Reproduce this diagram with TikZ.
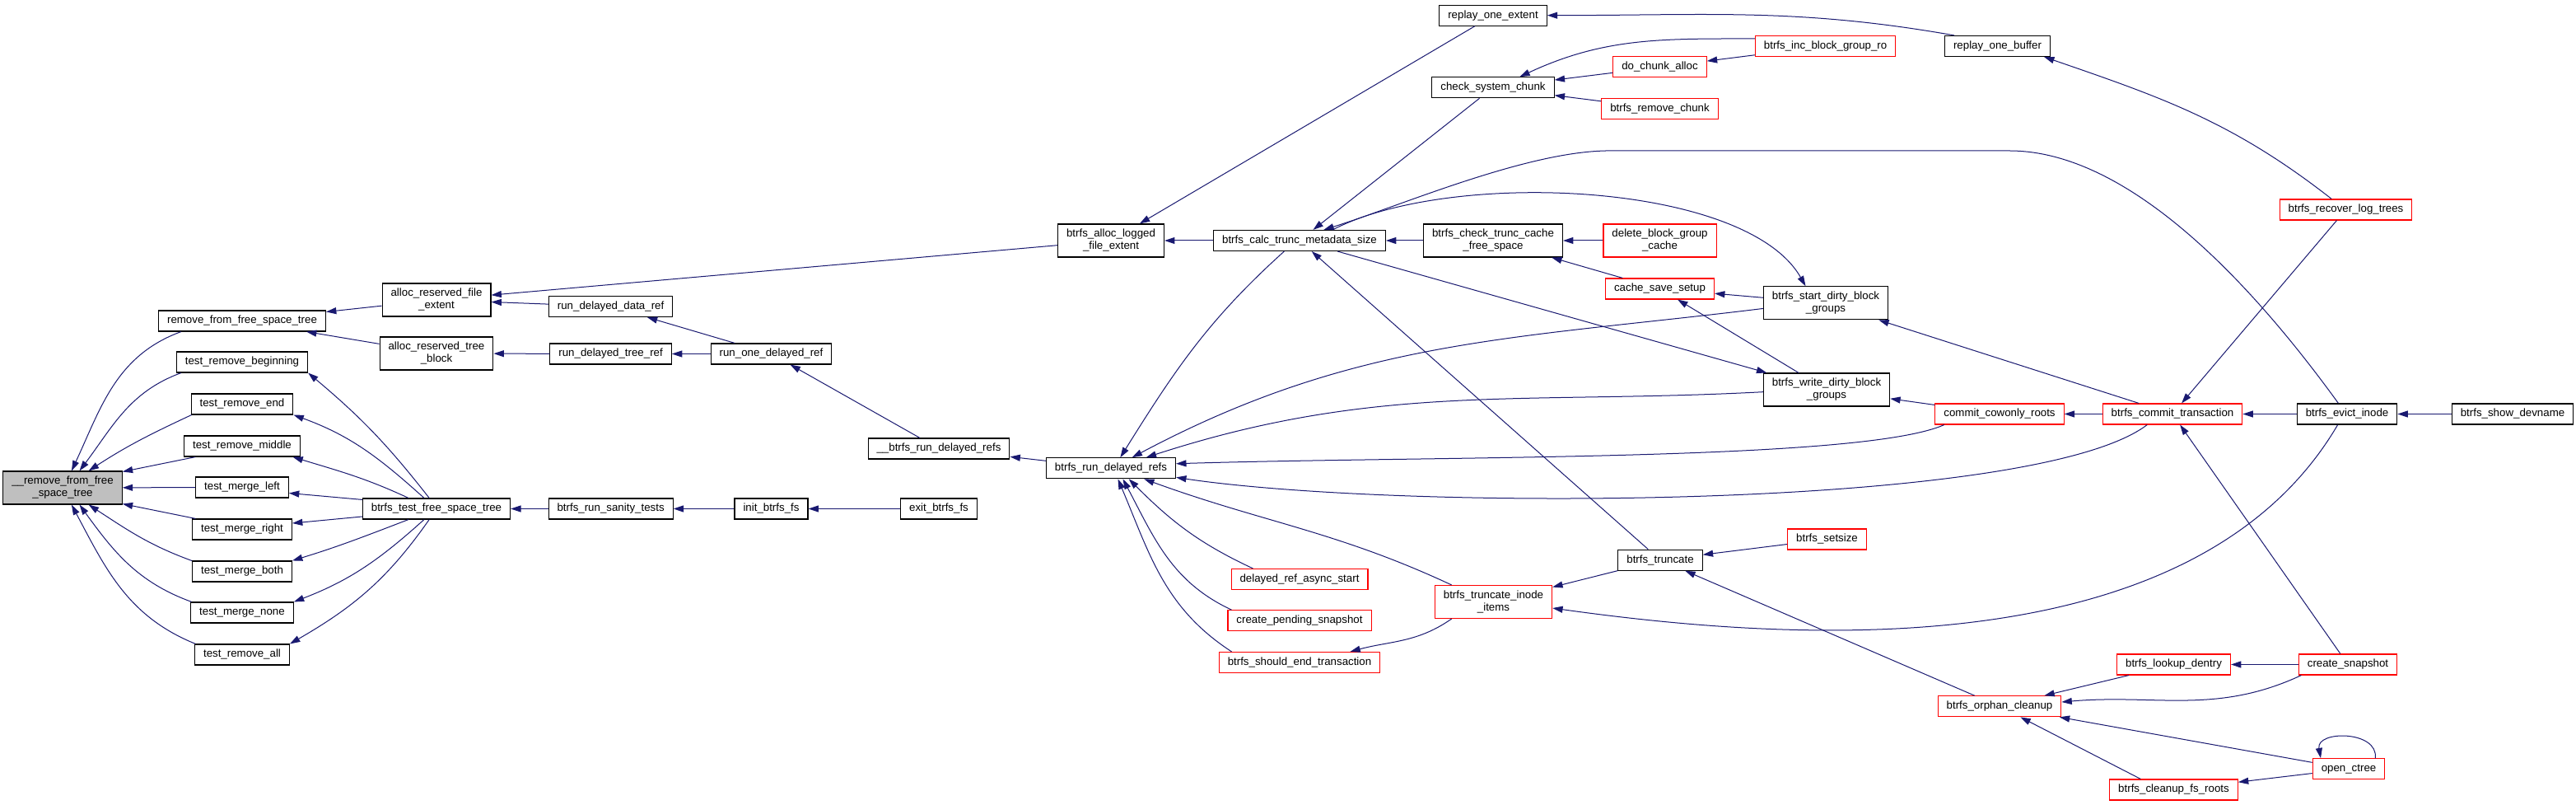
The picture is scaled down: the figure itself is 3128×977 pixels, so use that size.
\documentclass[tikz,border=0pt]{standalone}
\usepackage{fontspec}
\setmainfont{Liberation Sans}
\usepackage{tikz}
\usetikzlibrary{arrows.meta}
\definecolor{cgedge}{HTML}{191970}
\definecolor{cgmain}{HTML}{BFBFBF}
\definecolor{cgred}{HTML}{FF0000}

\begin{document}
\begin{tikzpicture}[x=0.5pt, y=-0.5pt,
  fn/.style={draw=black, fill=white, line width=0.55pt, inner xsep=5.25pt, inner ysep=0pt, minimum height=12.5pt, align=center, font=\fontsize{6.65}{7.5}\selectfont},
  fnred/.style={fn, draw=cgred},
  fntwo/.style={minimum height=20pt},
  call/.style={draw=cgedge, line width=0.5pt, -{Triangle[length=6.2pt,width=4pt]}}]
  \useasboundingbox (0,0) rectangle (3128,977);

  \node[fn, fntwo, fill=cgmain] (rmint) at (76,592) {\_\_remove\_from\_free\\\_space\_tree};
  \node[fn] (rmtree) at (294,389.5) {remove\_from\_free\_space\_tree};
  \node[fn] (trb) at (294,439.5) {test\_remove\_beginning};
  \node[fn] (tre) at (294,490.5) {test\_remove\_end};
  \node[fn] (trm) at (294,541.5) {test\_remove\_middle};
  \node[fn] (tml) at (294,591.5) {test\_merge\_left};
  \node[fn] (tmr) at (294,642.5) {test\_merge\_right};
  \node[fn] (tmb) at (294,693.5) {test\_merge\_both};
  \node[fn] (tmn) at (294,743.5) {test\_merge\_none};
  \node[fn] (tra) at (294,794.5) {test\_remove\_all};
  \node[fn, fntwo] (arfe) at (530,364) {alloc\_reserved\_file\\\_extent};
  \node[fn, fntwo] (artb) at (530,429) {alloc\_reserved\_tree\\\_block};
  \node[fn] (tfst) at (530,617.5) {btrfs\_test\_free\_space\_tree};
  \node[fn] (rdd) at (741.6,372) {run\_delayed\_data\_ref};
  \node[fn] (rdt) at (741.6,429.5) {run\_delayed\_tree\_ref};
  \node[fn] (rst) at (741.6,617.5) {btrfs\_run\_sanity\_tests};
  \node[fn] (rodr) at (936.5,429.5) {run\_one\_delayed\_ref};
  \node[fn] (ibf) at (936.5,617.5) {init\_btrfs\_fs};
  \node[fn] (brdr) at (1140,544.5) {\_\_btrfs\_run\_delayed\_refs};
  \node[fn] (ebf) at (1140,617.5) {exit\_btrfs\_fs};
  \node[fn, fntwo] (alfe) at (1349,292) {btrfs\_alloc\_logged\\\_file\_extent};
  \node[fn] (rdr) at (1349,568.3) {btrfs\_run\_delayed\_refs};
  \node[fn] (ctms) at (1578,292) {btrfs\_calc\_trunc\_metadata\_size};
  \node[fnred] (dras) at (1578,703) {delayed\_ref\_async\_start};
  \node[fnred] (cps) at (1578,753.3) {create\_pending\_snapshot};
  \node[fnred] (sendt) at (1578,804) {btrfs\_should\_end\_transaction};
  \node[fn] (roe) at (1813,18.7) {replay\_one\_extent};
  \node[fn] (csc) at (1813,106.3) {check\_system\_chunk};
  \node[fn, fntwo] (ctcf) at (1813,292) {btrfs\_check\_trunc\_cache\\\_free\_space};
  \node[fnred, fntwo] (ttii) at (1813.5,730.5) {btrfs\_truncate\_inode\\\_items};
  \node[fnred] (dca) at (2015.5,81.3) {do\_chunk\_alloc};
  \node[fnred] (rmc) at (2015.5,131.8) {btrfs\_remove\_chunk};
  \node[fnred, fntwo] (dbgc) at (2015.5,292) {delete\_block\_group\\\_cache};
  \node[fnred] (css) at (2015.5,350.5) {cache\_save\_setup};
  \node[fn] (trunc) at (2016,679.7) {btrfs\_truncate};
  \node[fnred] (ibgr) at (2216.6,56) {btrfs\_inc\_block\_group\_ro};
  \node[fn, fntwo] (sdbg) at (2217,367.8) {btrfs\_start\_dirty\_block\\\_groups};
  \node[fn, fntwo] (wdbg) at (2218,473) {btrfs\_write\_dirty\_block\\\_groups};
  \node[fnred] (ssz) at (2218.5,654.5) {btrfs\_setsize};
  \node[fn] (rob) at (2425.5,56) {replay\_one\_buffer};
  \node[fnred] (ccr) at (2428,502.5) {commit\_cowonly\_roots};
  \node[fnred] (oc) at (2428,857.3) {btrfs\_orphan\_cleanup};
  \node[fnred] (ct) at (2638,502.5) {btrfs\_commit\_transaction};
  \node[fnred] (ld) at (2639.5,806.5) {btrfs\_lookup\_dentry};
  \node[fnred] (cfr) at (2639.5,958.5) {btrfs\_cleanup\_fs\_roots};
  \node[fnred] (rlt) at (2848.5,254.5) {btrfs\_recover\_log\_trees};
  \node[fn] (ei) at (2850,502.5) {btrfs\_evict\_inode};
  \node[fnred] (cs) at (2851,806.5) {create\_snapshot};
  \node[fnred] (oct) at (2852,933.3) {open\_ctree};
  \node[fn] (sd) at (3051,502.5) {btrfs\_show\_devname};

  \draw[call] (rmtree.190) to[out=200,in=65] (rmint.62);
  \draw[call] (trb.190) to[out=200,in=53] (rmint.45);
  \draw[call] (tre.192) to[out=205,in=33] (rmint.33);
  \draw[call] (trm.193) -- (rmint.15);
  \draw[call] (tml) -- (rmint);
  \draw[call] (tmr.167) -- (rmint.-15);
  \draw[call] (tmb.168) to[out=160,in=-33] (rmint.-33);
  \draw[call] (tmn.168) to[out=160,in=-54] (rmint.-45);
  \draw[call] (tra.167) to[out=158,in=-62] (rmint.-62);
  \draw[call] (arfe) -- (rmtree);
  \draw[call] (artb) -- (rmtree);
  \draw[call] (tfst.124) to[out=128,in=-40] (trb.south east);
  \draw[call] (tfst.139) to[out=138,in=-20] (tre.south east);
  \draw[call] (tfst.159) to[out=155,in=-17] (trm.-12);
  \draw[call] (tfst.173) -- (tml.-7);
  \draw[call] (tfst.186) -- (tmr.7);
  \draw[call] (tfst.201) to[out=201,in=17] (tmb.north east);
  \draw[call] (tfst.221) to[out=222,in=21] (tmn.north east);
  \draw[call] (tfst.236) to[out=235,in=30] (tra.north east);
  \draw[call] (alfe) -- (arfe);
  \draw[call] (rdd) -- (arfe);
  \draw[call] (rdt) -- (artb);
  \draw[call] (rst) -- (tfst);
  \draw[call] (rodr) -- (rdd);
  \draw[call] (rodr) -- (rdt);
  \draw[call] (ibf) -- (rst);
  \draw[call] (brdr) -- (rodr);
  \draw[call] (ebf) -- (ibf);
  \draw[call] (rdr) -- (brdr);
  \draw[call] (roe) -- (alfe);
  \draw[call] (ctms) -- (alfe);
  \draw[call] (ctms.215) to[out=222,in=58] (rdr.49);
  \draw[call] (csc) -- (ctms);
  \draw[call] (ei.129) .. controls (2760,380) and (2600,183) .. (2440,183) -- (1950,183) .. controls (1850,185) and (1700,250) .. (ctms.24);
  \draw[call] (ctms.18) .. controls (1760,205) and (2120,220) .. (sdbg.140);
  \draw[call] (ctcf) -- (ctms);
  \draw[call] (trunc) -- (ctms);
  \draw[call] (ctms) -- (wdbg);
  \draw[call] (sdbg.185) to[out=187,in=28] (rdr.27);
  \draw[call] (wdbg.182) to[out=183,in=18] (rdr.17);
  \draw[call] (ccr.191) .. controls (2260,560) and (1750,553) .. (rdr.4);
  \draw[call] (ct.203) .. controls (2470,620) and (1700,620) .. (rdr.-8);
  \draw[call] (ttii.158) to[out=155,in=-20] (rdr.-18);
  \draw[call] (dras.167) to[out=155,in=-45] (rdr.-31);
  \draw[call] (cps.171) to[out=155,in=-62] (rdr.-42);
  \draw[call] (sendt.171) to[out=147,in=-67] (rdr.-57);
  \draw[call] (rob.166) to[out=170,in=0] (roe.east);
  \draw[call] (ibgr.174) to[out=180,in=25] (csc.22);
  \draw[call] (dca) -- (csc);
  \draw[call] (rmc) -- (csc);
  \draw[call] (ibgr) -- (dca);
  \draw[call] (dbgc) -- (ctcf);
  \draw[call] (css) -- (ctcf);
  \draw[call] (sdbg) -- (css);
  \draw[call] (wdbg) -- (css);
  \draw[call] (ccr) -- (wdbg);
  \draw[call] (ct) -- (sdbg);
  \draw[call] (ct) -- (ccr);
  \draw[call] (rlt) -- (ct);
  \draw[call] (ei) -- (ct);
  \draw[call] (sd) -- (ei);
  \draw[call] (rlt.143) to[out=142,in=-19] (rob.-13);
  \draw[call] (cs) -- (ct);
  \draw[call] (ssz) -- (trunc);
  \draw[call] (trunc) -- (ttii);
  \draw[call] (oc) -- (trunc);
  \draw[call] (ttii.202) to[out=215,in=15] (sendt.12);
  \draw[call] (ei.229) .. controls (2660,820) and (2150,775) .. (ttii.-6);
  \draw[call] (ld) -- (oc);
  \draw[call] (cs) -- (ld);
  \draw[call] (cs.193) to[out=205,in=5] (oc.4);
  \draw[call] (oct) -- (oc);
  \draw[call] (cfr.162) -- (oc);
  \draw[call] (oct) -- (cfr);
  \draw[call] (oct.22) .. controls +(4,-34) and +(-6,-34) .. (oct.159);
\end{tikzpicture}
\end{document}
